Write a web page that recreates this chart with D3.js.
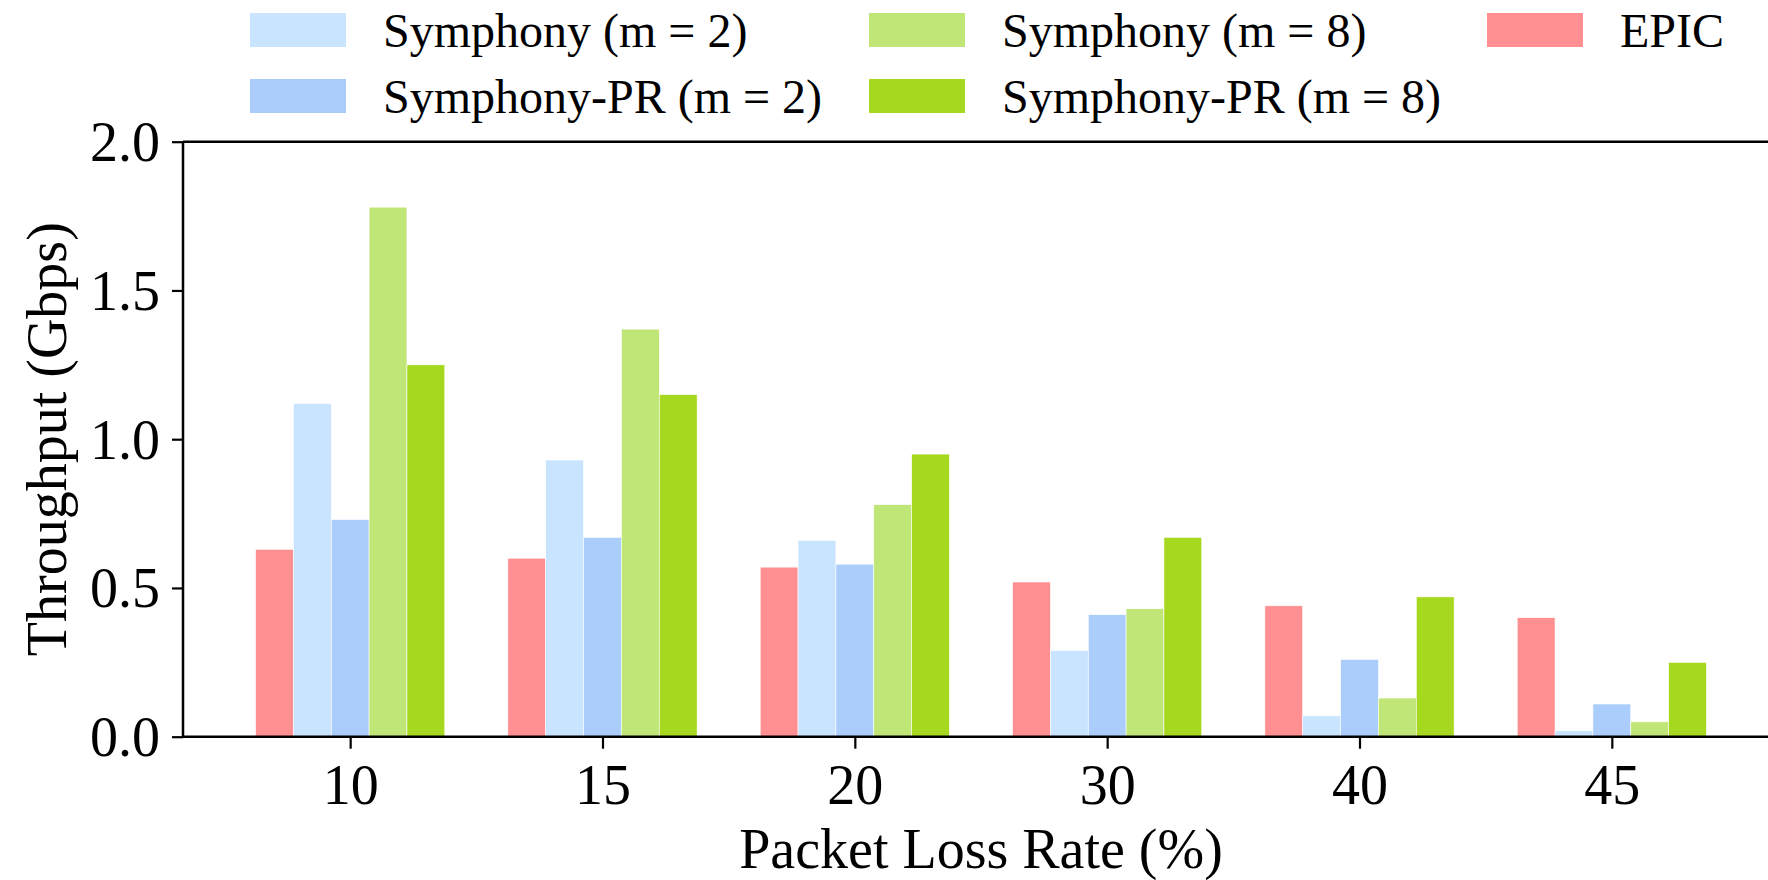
<!DOCTYPE html>
<html>
<head>
<meta charset="utf-8">
<script src="https://cdn.jsdelivr.net/npm/d3@7"></script>
<style>
  body { margin: 0; background: #fff; }
  svg { display: block; }
</style>
</head>
<body>
<div id="chart"></div>
<script>
let w = 1768;
let h = 880;

// data
let lossRates = ["10", "15", "20", "30", "40", "45"];
let seriesNames = ["EPIC", "Symphony (m = 2)", "Symphony-PR (m = 2)", "Symphony (m = 8)", "Symphony-PR (m = 8)"];
let epic      = [0.63, 0.60, 0.57, 0.52, 0.44, 0.40];
let symM2     = [1.12, 0.93, 0.66, 0.29, 0.07, 0.02];
let symPrM2   = [0.73, 0.67, 0.58, 0.41, 0.26, 0.11];
let symM8     = [1.78, 1.37, 0.78, 0.43, 0.13, 0.05];
let symPrM8   = [1.25, 1.15, 0.95, 0.67, 0.47, 0.25];
let yTicks = [0, 0.5, 1.0, 1.5, 2.0];

let seriesValues = [epic, symM2, symPrM2, symM8, symPrM8];
let colors = ["#FF8F91", "#C9E4FE", "#ABCDFB", "#BFE676", "#A6D81F"];

let fontFam = "'Liberation Serif', 'Times New Roman', serif";

let plotL = 183, plotT = 141.7, plotB = 736.7, plotR = 1779;

let viz = d3.select("#chart")
  .append("svg")
    .attr("width", w)
    .attr("height", h)
    .style("font-family", fontFam);

let x = d3.scaleLinear()
  .domain([-0.6625, lossRates.length - 1 + 0.6625])
  .range([plotL, plotR]);

let y = d3.scaleLinear()
  .domain([0, 2])
  .range([plotB, plotT]);

let barW = x(0.15) - x(0);

// bars
let bars = viz.append("g").attr("class", "bars");
seriesValues.forEach(function(vals, s) {
  bars.selectAll(".s" + s)
    .data(vals)
    .enter()
    .append("rect")
      .attr("class", "s" + s)
      .attr("x", function(d, i) { return x(i + (s - 2.5) * 0.15); })
      .attr("y", function(d) { return y(d); })
      .attr("width", barW)
      .attr("height", function(d) { return y(0) - y(d); })
      .attr("fill", colors[s])
      .attr("stroke", "#ffffff")
      .attr("stroke-width", 0.6);
});

// axes
let xAxis = d3.axisBottom(x)
  .tickValues(d3.range(lossRates.length))
  .tickFormat(function(i) { return lossRates[i]; })
  .tickSize(12)
  .tickPadding(16);

let yAxis = d3.axisLeft(y)
  .tickValues(yTicks)
  .tickFormat(d3.format(".1f"))
  .tickSize(11)
  .tickPadding(12);

let gx = viz.append("g")
  .attr("transform", "translate(0," + plotB + ")")
  .call(xAxis);

let gy = viz.append("g")
  .attr("transform", "translate(" + plotL + ",0)")
  .call(yAxis);

[gx, gy].forEach(function(g) {
  g.select(".domain").remove();
  g.selectAll(".tick line").attr("stroke", "#000").attr("stroke-width", 2.2);
  g.selectAll(".tick text")
    .attr("fill", "#000")
    .style("font-family", fontFam)
    .style("font-size", "56px");
});
gy.selectAll(".tick text").attr("dy", "0.34em");

// spines
let spines = viz.append("g").attr("stroke", "#000").attr("stroke-width", 2.5);
spines.append("line").attr("x1", plotL).attr("x2", plotR).attr("y1", plotT).attr("y2", plotT);
spines.append("line").attr("x1", plotL).attr("x2", plotR).attr("y1", plotB).attr("y2", plotB);
spines.append("line").attr("x1", plotL).attr("x2", plotL).attr("y1", plotT).attr("y2", plotB);
spines.append("line").attr("x1", plotR).attr("x2", plotR).attr("y1", plotT).attr("y2", plotB);

// axis titles
viz.append("text")
  .attr("x", (plotL + plotR) / 2)
  .attr("y", 868)
  .attr("text-anchor", "middle")
  .style("font-size", "56px")
  .text("Packet Loss Rate (%)");

viz.append("text")
  .attr("transform", "translate(66," + ((plotT + plotB) / 2) + ") rotate(-90)")
  .attr("text-anchor", "middle")
  .style("font-size", "56px")
  .text("Throughput (Gbps)");

// legend, filled column by column
let legendOrder = [1, 2, 3, 4, 0];
let colX = [250, 869, 1487];
let rowY = [30, 96];
let legend = viz.append("g").attr("class", "legend");
legendOrder.forEach(function(s, k) {
  let cx = colX[Math.floor(k / 2)];
  let cy = rowY[k % 2];
  legend.append("rect")
    .attr("x", cx)
    .attr("y", cy - 17)
    .attr("width", 96)
    .attr("height", 34)
    .attr("fill", colors[s]);
  legend.append("text")
    .attr("x", cx + 133)
    .attr("y", cy)
    .attr("dy", "0.35em")
    .style("font-size", "48px")
    .text(seriesNames[s]);
});
</script>
</body>
</html>
